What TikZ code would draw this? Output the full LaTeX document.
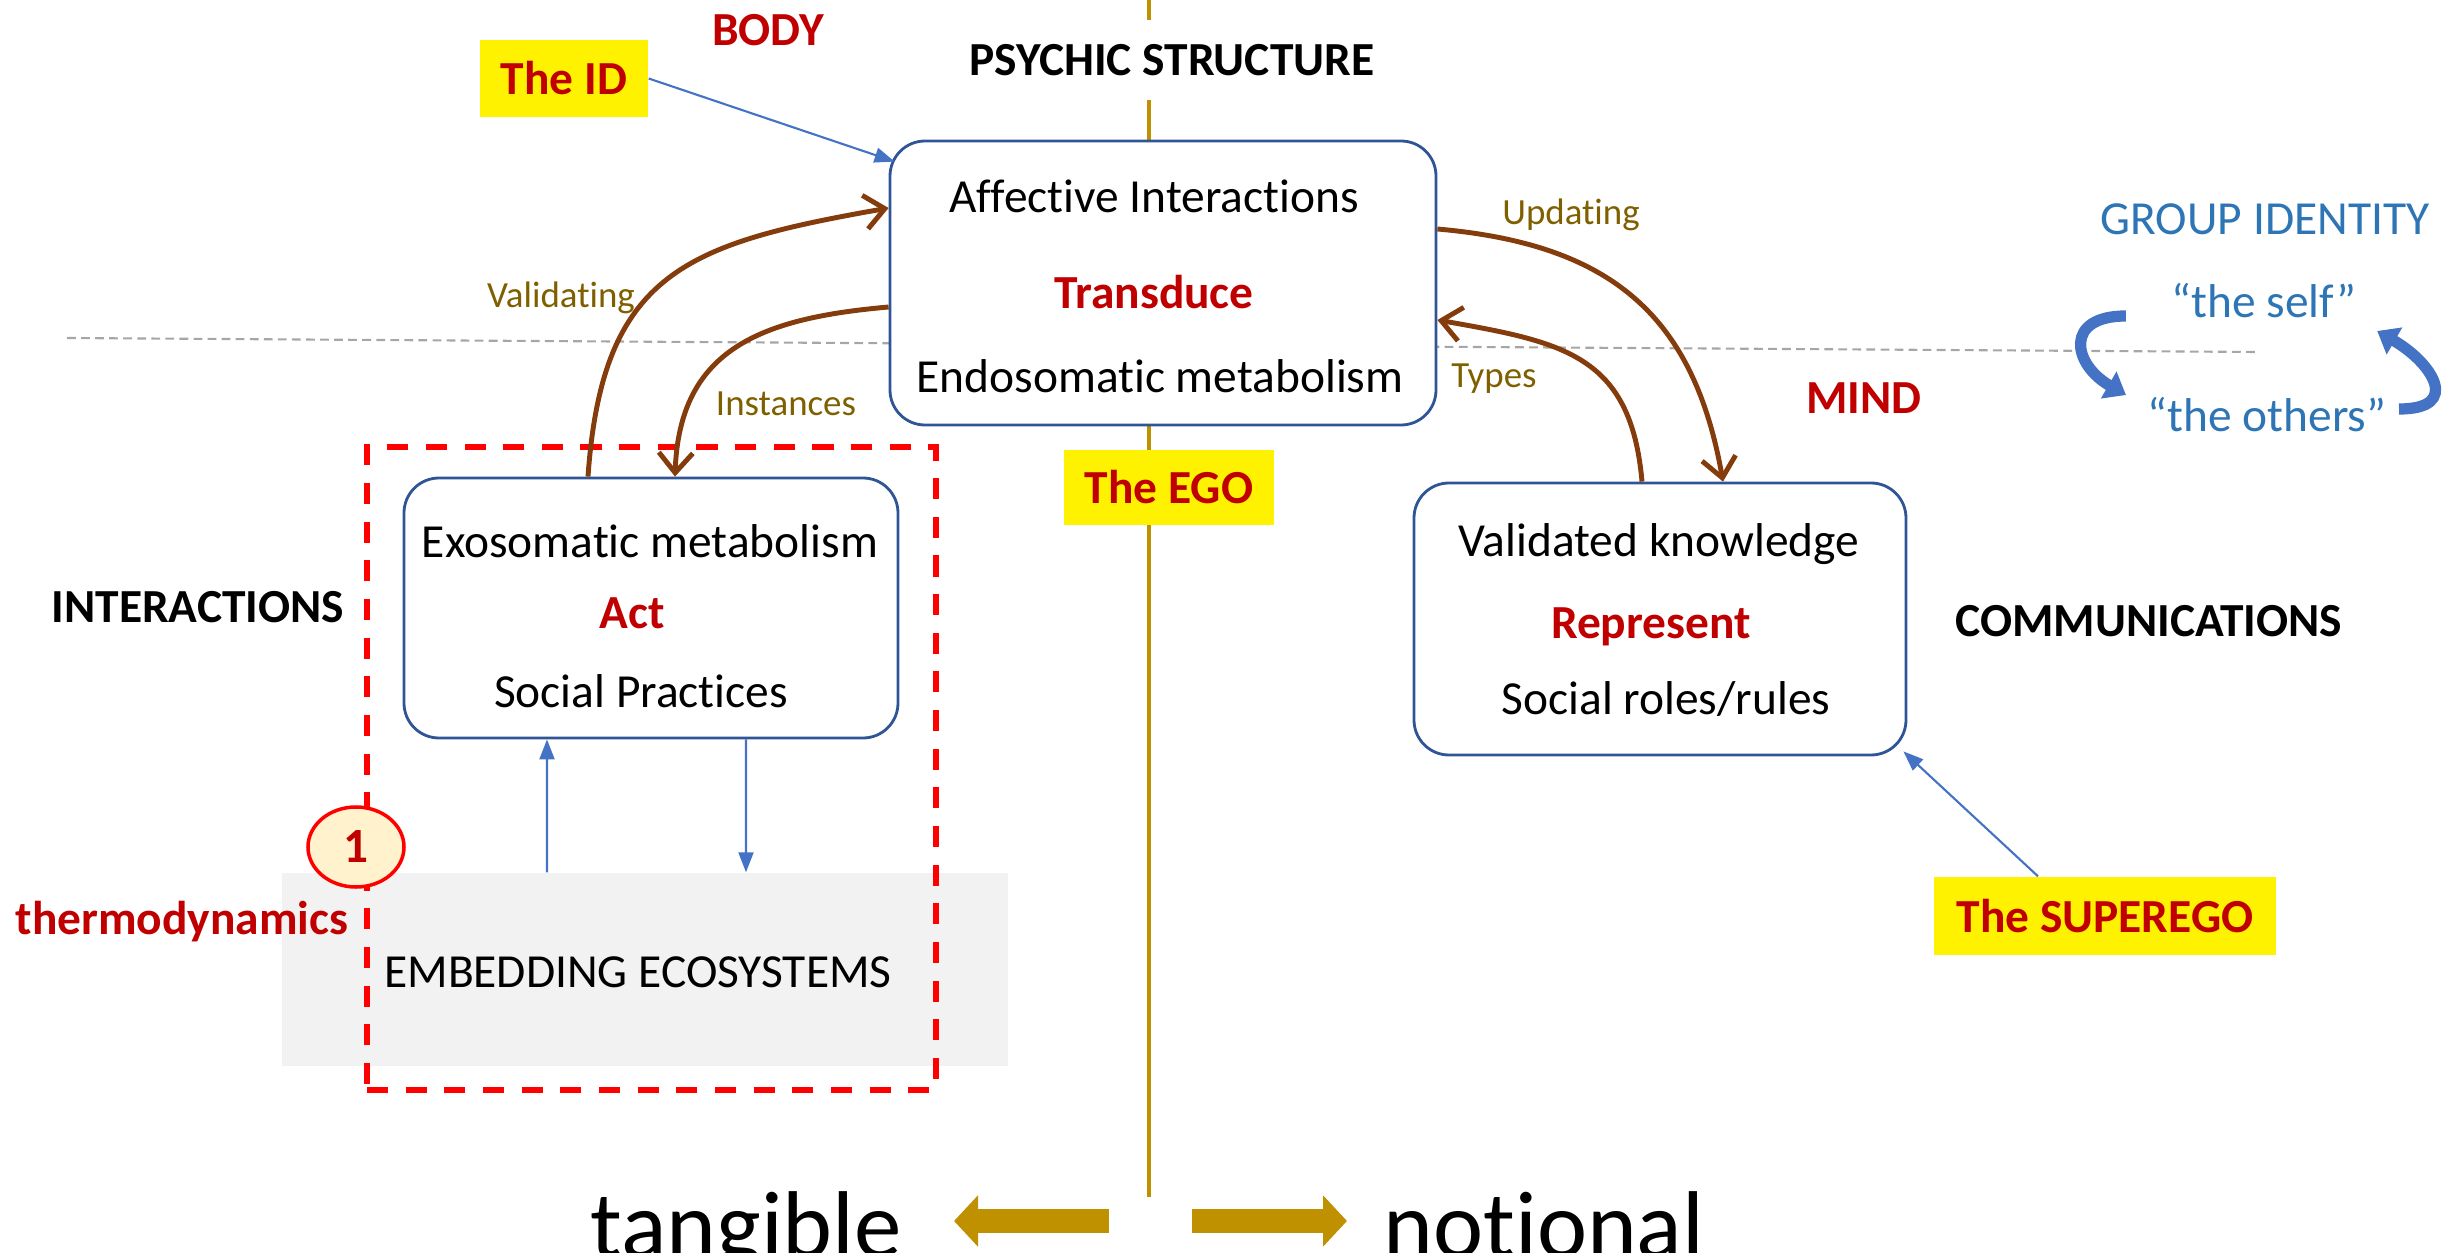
\documentclass[tikz,border=0pt]{standalone}
\usepackage{fontspec}
\setmainfont{Carlito}[Ligatures={TeX,NoCommon}]
\usetikzlibrary{arrows.meta, shapes.geometric}

\definecolor{boxblue}{RGB}{47,85,151}
\definecolor{linkblue}{RGB}{68,114,196}
\definecolor{groupblue}{RGB}{46,117,182}
\definecolor{darkred}{RGB}{192,0,0}
\definecolor{rust}{RGB}{132,60,12}
\definecolor{olive}{RGB}{127,96,0}
\definecolor{ochre}{RGB}{191,144,0}
\definecolor{paleyellow}{RGB}{255,242,204}
\definecolor{ecogray}{RGB}{242,242,242}

\begin{document}
\begin{tikzpicture}[
            boxtext/.style={font=\fontsize{13.5}{16}\selectfont, inner sep=0pt},
            heading/.style={font=\fontsize{13.5}{16}\selectfont\bfseries, inner sep=0pt},
            redhead/.style={heading, text=darkred},
            tag/.style={redhead, fill=yellow, minimum height=0.77cm},
            flowlabel/.style={font=\fontsize{10.5}{12}\selectfont, text=olive, inner sep=0pt},
            groupword/.style={font=\fontsize{13.5}{16}\selectfont, text=groupblue, inner sep=0pt},
            stage/.style={draw=boxblue, line width=0.8pt, rounded corners=0.35cm, fill=white},
            link/.style={-{Triangle[length=2mm, width=1.5mm]}, linkblue, line width=0.6pt},
            flow/.style={-{Straight Barb[length=2mm, width=3.4mm]}, rust, line width=1.4pt},
            swap/.style={-{Triangle[length=2mm, width=3mm]}, linkblue, line width=3.2pt, looseness=2},
            bigarrow/.style={-{Triangle[length=2.4mm, width=5mm]}, ochre, line width=2.4mm}
        ]
            \useasboundingbox (0,0) rectangle (24.58,-12.53);

            % Guide lines
            \node[heading, minimum height=0.78cm] (psyche) at (11.72,-0.60) {PSYCHIC STRUCTURE};
            \coordinate (vtop) at (11.49,0);
            \coordinate (vbot) at (11.49,-11.97);
            \draw[ochre, line width=1.1pt] (vtop) -- (psyche.north -| vtop);
            \draw[ochre, line width=1.1pt] (psyche.south -| vtop) -- (vbot);
            \coordinate (hleft) at (0.67,-3.38);
            \coordinate (hright) at (22.58,-3.52);
            \draw[gray!70, line width=0.6pt, dash pattern=on 2.5pt off 1.5pt] (hleft) -- (hright);

            % Titles
            \node[redhead] (body) at (7.68,-0.30) {BODY};
            \node[redhead] (mind) at (18.64,-3.98) {MIND};
            \node[heading] (interactions) at (1.98,-6.07) {INTERACTIONS};
            \node[heading] (communications) at (21.49,-6.21) {COMMUNICATIONS};

            % Ecosystem and scope of thermodynamics
            \node[fill=ecogray, minimum width=7.26cm, minimum height=1.93cm] (eco) at (6.45,-9.695) {};
            \node[boxtext] (ecotext) at (6.38,-9.72) {EMBEDDING ECOSYSTEMS};
            \node[draw=red, line width=1.7pt, dash pattern=on 6pt off 5pt,
                  minimum width=5.69cm, minimum height=6.43cm] (zone) at (6.515,-7.685) {};
            \node[ellipse, draw=red, line width=1pt, fill=paleyellow, minimum width=0.96cm,
                  minimum height=0.8cm, inner sep=0pt, text=darkred,
                  font=\fontsize{14}{16}\selectfont\bfseries] (one) at (3.56,-8.47) {1};
            \node[redhead] (thermo) at (1.82,-9.22) {thermodynamics};

            % Core: psychic structure
            \node[stage, minimum width=5.46cm, minimum height=2.84cm] (core) at (11.63,-2.83) {};
            \node[boxtext] (affect) at (11.54,-1.96) {Affective Interactions};
            \node[redhead] (transduce) at (11.54,-2.92) {Transduce};
            \node[boxtext] (endo) at (11.60,-3.76) {Endosomatic metabolism};

            % Body side
            \node[stage, minimum width=4.94cm, minimum height=2.60cm] (exo) at (6.51,-6.08) {};
            \node[boxtext] (exotext) at (6.50,-5.41) {Exosomatic metabolism};
            \node[redhead] (act) at (6.32,-6.13) {Act};
            \node[boxtext] (practices) at (6.41,-6.91) {Social Practices};

            % Mind side
            \node[stage, minimum width=4.92cm, minimum height=2.72cm] (know) at (16.60,-6.19) {};
            \node[boxtext] (knowtext) at (16.59,-5.44) {Validated knowledge};
            \node[redhead] (represent) at (16.51,-6.27) {Represent};
            \node[boxtext] (roles) at (16.66,-6.99) {Social roles/rules};

            % Id, ego, superego
            \node[tag, minimum width=1.68cm] (id) at (5.64,-0.785) {The ID};
            \node[tag, minimum width=2.10cm, minimum height=0.75cm] (ego) at (11.69,-4.875) {The EGO};
            \node[tag, minimum width=3.42cm, minimum height=0.78cm] (superego) at (21.05,-9.16) {The SUPEREGO};

            % Group identity
            \node[groupword] (group) at (22.65,-2.19) {GROUP IDENTITY};
            \node[groupword] (self) at (22.64,-3.01) {“the self”};
            \node[groupword] (others) at (22.67,-4.15) {“the others”};
            \draw[swap] ([xshift=-0.45cm,yshift=-0.15cm]self.west) to[out=180, in=150] ([xshift=-0.21cm,yshift=0.2cm]others.west);
            \draw[swap] ([xshift=0.12cm,yshift=0.06cm]others.east) to[out=0, in=-30] ([xshift=0.2cm,yshift=-0.3cm]self.east);

            % Thin links
            \draw[link] (id.east) -- ([xshift=0.06cm,yshift=-0.22cm]core.north west);
            \draw[link] ([xshift=-0.67cm]superego.north) -- ([xshift=-0.04cm,yshift=0.05cm]know.south east);
            \draw[link] ([xshift=-0.98cm]eco.north) -- ([xshift=-1.04cm]exo.south);
            \draw[link] ([xshift=0.95cm]exo.south) -- ([xshift=1.01cm]eco.north);

            % Validation loops
            \draw[flow, looseness=1.3] ([xshift=-0.63cm]exo.north) to[out=86, in=190] ([yshift=0.75cm]core.west);
            \draw[flow, looseness=1.2] ([yshift=-0.24cm]core.west) to[out=185, in=88] ([xshift=0.24cm]exo.north);
            \draw[flow, looseness=1.15] ([yshift=0.54cm]core.east) to[out=-5, in=100] ([xshift=0.63cm]know.north);
            \draw[flow, looseness=1.25] ([xshift=-0.18cm]know.north) to[out=95, in=-10] ([yshift=-0.37cm]core.east);
            \node[flowlabel] (validating) at (5.61,-2.98) {Validating};
            \node[flowlabel] (instances) at (7.86,-4.04) {Instances};
            \node[flowlabel] (updating) at (15.71,-2.15) {Updating};
            \node[flowlabel] (types) at (14.94,-3.79) {Types};

            % Tangible vs notional
            \node[font=\fontsize{27}{32}\selectfont, anchor=base, inner sep=0pt] (tangible) at (7.46,-12.57) {tangible};
            \node[font=\fontsize{27}{32}\selectfont, anchor=base, inner sep=0pt] (notional) at (15.44,-12.57) {notional};
            \coordinate (leftfrom) at (11.09,-12.21);
            \coordinate (lefttip) at (9.54,-12.21);
            \coordinate (rightfrom) at (11.92,-12.21);
            \coordinate (righttip) at (13.47,-12.21);
            \draw[bigarrow] (leftfrom) -- (lefttip);
            \draw[bigarrow] (rightfrom) -- (righttip);
        \end{tikzpicture}
\end{document}
